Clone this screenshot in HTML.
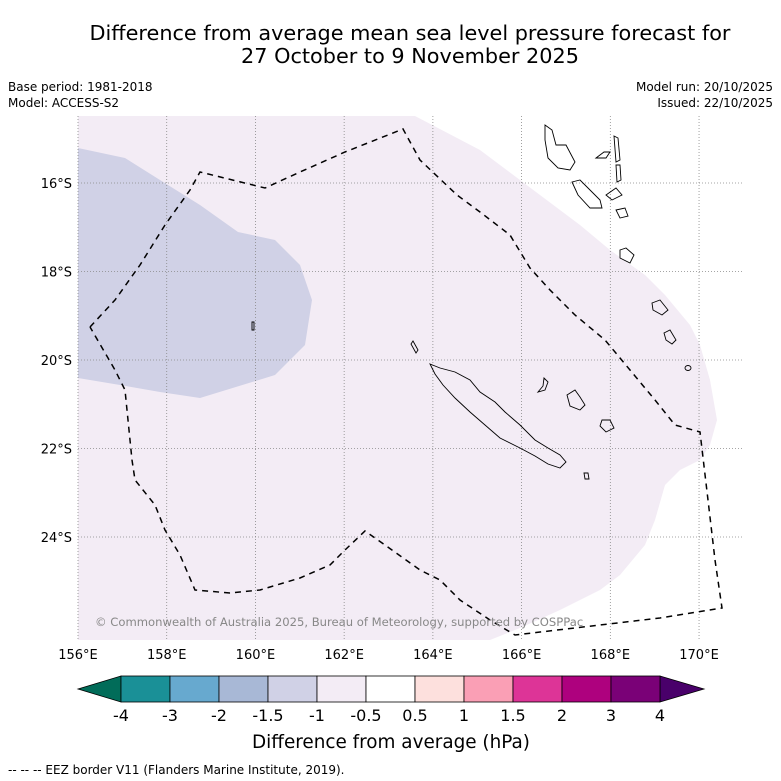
<!DOCTYPE html>
<html><head><meta charset="utf-8"><style>
html,body{margin:0;padding:0;background:#fff;}
svg{display:block;font-family:"DejaVu Sans","Liberation Sans",sans-serif;}
</style></head><body>
<svg id="c" width="781" height="781" viewBox="0 0 781 781">
<text x="410" y="40" font-size="20.8" text-anchor="middle">Difference from average mean sea level pressure forecast for</text>
<text x="410" y="63" font-size="20.8" text-anchor="middle">27 October to 9 November 2025</text>
<text x="8" y="91" font-size="12">Base period: 1981-2018</text>
<text x="8" y="107" font-size="12">Model: ACCESS-S2</text>
<text x="773" y="91" font-size="12" text-anchor="end">Model run: 20/10/2025</text>
<text x="773" y="107" font-size="12" text-anchor="end">Issued: 22/10/2025</text>
<g id="map">
<polygon fill="#f3ecf5" points="78,116 415,116 480,150 520,180 580,225 610,250 645,275 665,295 690,325 700,345 710,380 717,420 710,445 700,460 680,470 665,485 655,520 645,545 620,575 600,590 560,610 520,628 490,640 78,640"/>
<polygon fill="#d0d1e6" points="78,148 125,158 160,180 200,205 238,232 275,240 300,265 312,300 305,345 275,375 200,398 160,392 120,385 78,378"/>
<g id="grid"></g>
<g fill="none" stroke="#000" stroke-width="0.9">
<polygon points="413,341 418,350 416,353 411,344"/>
<polygon points="430,364 440,368 455,372 470,380 480,392 495,402 505,412 520,425 535,440 548,448 560,455 566,462 560,468 548,464 535,456 520,448 500,438 485,425 470,412 455,398 443,385 435,374"/>
<polygon points="544,378 548,382 545,390 538,392 543,386"/>
<polygon points="567,395 575,390 580,397 585,405 580,410 570,406"/>
<polygon points="602,420 610,420 614,428 606,432 600,426"/>
<polygon points="584,473 588,473 589,479 585,479"/>
<polygon points="545,125 552,130 556,145 566,145 575,162 570,170 558,168 548,158 545,140"/>
<polygon points="572,182 580,180 590,190 600,200 602,208 590,208 578,195"/>
<polygon points="614,136 618,138 620,160 616,162"/>
<polygon points="616,165 620,165 621,180 617,182"/>
<polygon points="596,158 604,152 610,152 606,158"/>
<polygon points="606,195 616,188 622,195 612,200"/>
<polygon points="616,210 625,208 628,216 620,218"/>
<polygon points="620,250 626,248 634,255 630,263 620,258"/>
<polygon points="652,303 660,300 668,310 662,315 653,310"/>
<polygon points="664,333 670,330 676,340 672,344 666,340"/>
<ellipse cx="688" cy="368" rx="3" ry="2.5"/>
<polygon points="252,322 254,322 254,330 252,330"/>
</g>
<polyline fill="none" stroke="#000" stroke-width="1.5" stroke-dasharray="6,5" points="90,327 115,300 140,265 165,225 190,190 200,172 265,188 300,172 345,152 403,129 420,160 457,195 480,212 510,235 530,268 550,290 575,315 605,340 630,370 655,400 675,425 700,432 708,500 715,560 722,608 660,618 600,625 515,635 490,620 460,600 440,580 420,570 406,560 385,545 365,531 345,550 330,565 300,578 260,590 230,593 195,590 180,555 165,530 155,505 135,480 132,460 128,420 125,390 115,370 90,327"/>
<text x="95" y="626" font-size="11.6" fill="#888">© Commonwealth of Australia 2025, Bureau of Meteorology, supported by COSPPac</text>
</g>
<g id="ticks"></g>
<g id="cbar"></g>
<text x="391" y="748" font-size="18.4" text-anchor="middle">Difference from average (hPa)</text>
<text x="8" y="774" font-size="12">--  --  -- EEZ border V11 (Flanders Marine Institute, 2019).</text>
</svg>
<script>
const lonTicks=[156,158,160,162,164,166,168,170];
const latTicks=[16,18,20,22,24];
const cbarLevels=["-4","-3","-2","-1.5","-1","-0.5","0.5","1","1.5","2","3","4"];
const cbarColors=["#1a9097","#67a9cf","#a8b8d6","#d0d1e6","#f3ecf5","#ffffff","#fde0dd","#fa9fb5","#dd3497","#ae017e","#7a0177"];
const ns="http://www.w3.org/2000/svg";
const X=lon=>78+(lon-156)*44.36;
const Y=lat=>183+(lat-16)*44.25;
function mk(t,a,p){const e=document.createElementNS(ns,t);for(const k in a)e.setAttribute(k,a[k]);p.appendChild(e);return e;}
const grid=document.getElementById('grid'),ticks=document.getElementById('ticks'),cb=document.getElementById('cbar');
lonTicks.forEach(l=>{
 const ln=mk('line',{x1:X(l),x2:X(l),y1:116,y2:640,stroke:'#888','stroke-width':0.8,'stroke-dasharray':'1,2'},grid);
 
 
 const t=mk('text',{x:X(l),y:659,'font-size':13,'text-anchor':'middle'},ticks);t.textContent=l+'°E';
 
 
});
latTicks.forEach(l=>{
 const ln=mk('line',{x1:78,x2:743,y1:Y(l),y2:Y(l),stroke:'#888','stroke-width':0.8,'stroke-dasharray':'1,2'},grid);
 
 
 const t=mk('text',{x:72,y:Y(l)+5,'font-size':13,'text-anchor':'end'},ticks);t.textContent=l+'°S';
 
 
});
const bx0=121,bw=49,by=676,bh=26;
const lt=mk('polygon',{points:`78,${by+bh/2} ${bx0},${by} ${bx0},${by+bh}`,fill:'#016c59',stroke:'#000','stroke-width':0.8},cb);


const bx1=bx0+bw*cbarColors.length;
const rt=mk('polygon',{points:`${bx1+44},${by+bh/2} ${bx1},${by} ${bx1},${by+bh}`,fill:'#49006a',stroke:'#000','stroke-width':0.8},cb);


cbarColors.forEach((c,i)=>{
 const r=mk('rect',{x:bx0+i*bw,y:by,width:bw,height:bh,fill:c,stroke:'#000','stroke-width':0.8},cb);
 
 
});
cbarLevels.forEach((s,i)=>{
 const t=mk('text',{x:bx0+i*bw,y:721,'font-size':16,'text-anchor':'middle'},cb);t.textContent=s;
 
 
});
</script>
</body></html>
